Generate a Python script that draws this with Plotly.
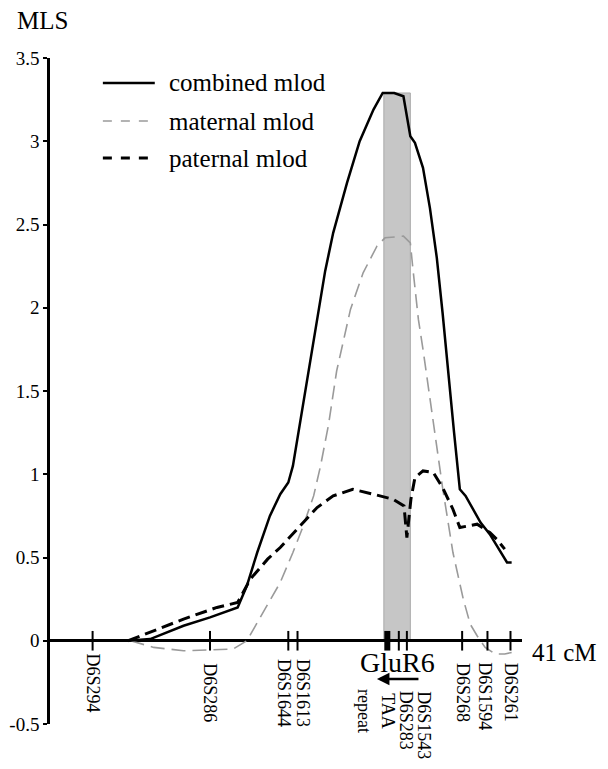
import plotly.graph_objects as go

# ---- data (cM position along chromosome 6q, MLS value) ----
combined_cm = [6.7, 8.7, 11.6, 13.9, 16.3, 17.1, 18.0, 19.1, 20.0, 20.7, 21.1, 21.7, 22.4, 23.2,
               23.9, 24.6, 25.8, 26.9, 28.1, 28.9, 29.9, 30.7, 31.3, 31.7, 32.4, 33.0, 33.6,
               34.1, 34.6, 35.1, 35.6, 36.1, 37.4, 38.2, 39.7, 40.1]
combined_mls = [0.0, 0.01, 0.09, 0.14, 0.20, 0.33, 0.53, 0.75, 0.88, 0.95, 1.05, 1.30, 1.60, 1.92,
                2.22, 2.45, 2.75, 3.00, 3.19, 3.29, 3.29, 3.27, 3.03, 2.99, 2.84, 2.60, 2.30,
                1.97, 1.60, 1.25, 0.91, 0.87, 0.71, 0.64, 0.47, 0.47]

maternal_cm = [7.0, 9.0, 11.6, 15.9, 17.1, 18.5, 20.0, 21.1, 22.0, 22.9, 23.5, 24.2, 24.9, 26.1,
               27.2, 28.4, 29.1, 30.7, 31.3, 31.5, 32.0, 32.4, 33.0, 33.6, 34.1, 35.0, 35.9,
               36.5, 37.1, 37.8, 38.7, 39.5, 40.1]
maternal_mls = [0.0, -0.04, -0.06, -0.05, 0.0, 0.17, 0.35, 0.53, 0.69, 0.87, 1.05, 1.30, 1.62, 1.99,
                2.21, 2.37, 2.42, 2.43, 2.39, 2.25, 1.93, 1.75, 1.45, 1.18, 0.92, 0.53, 0.25,
                0.10, 0.03, -0.04, -0.08, -0.08, -0.07]

paternal_cm = [6.8, 8.7, 11.6, 14.5, 16.3, 17.4, 18.9, 20.0, 21.7, 23.2, 24.6, 26.3, 28.1, 29.8,
               30.75, 31.0, 31.35, 31.7, 32.4, 33.3, 34.1, 35.0, 35.6, 37.1, 38.2, 38.8, 39.5]
paternal_mls = [0.0, 0.05, 0.13, 0.20, 0.23, 0.37, 0.49, 0.56, 0.69, 0.80, 0.87, 0.91, 0.88, 0.85,
                0.81, 0.62, 0.85, 0.98, 1.02, 1.01, 0.92, 0.79, 0.68, 0.70, 0.65, 0.61, 0.55]

marker_names = ["D6S294", "D6S286", "D6S1644", "D6S1613", "TAA<br>repeat", "D6S283",
                "D6S1543", "D6S268", "D6S1594", "D6S261"]
marker_cm = [3.7, 13.9, 20.7, 21.5, 29.3, 30.3, 31.0, 35.8, 38.0, 40.0]

gene_region = [29.0, 31.3]   # shaded GluR6 interval (cM)
gene_peak = 3.29
x_max = 41
y_ticks = [-0.5, 0, 0.5, 1, 1.5, 2, 2.5, 3, 3.5]
y_ticklabels = ["-0.5", "0", "0.5", "1", "1.5", "2", "2.5", "3", "3.5"]

# ---- styling ----
SERIF = "Liberation Serif, Times New Roman, serif"
label_shift = [0, 0, -5, 6, -11, 8, 17, 1, -2, 0]
label_top = [-0.065, -0.12, -0.10, -0.095, -0.28, -0.29, -0.29, -0.12, -0.12, -0.12]

fig = go.Figure()

fig.add_shape(type="rect", x0=gene_region[0], x1=gene_region[1], y0=0, y1=gene_peak,
              xref="x", yref="y", fillcolor="#c6c6c6", line=dict(color="#aaaaaa", width=1),
              layer="below")

fig.add_trace(go.Scatter(x=maternal_cm, y=maternal_mls, mode="lines",
                         line=dict(color="#9a9a9a", width=1.6, dash="14px,7px"),
                         showlegend=False))
fig.add_trace(go.Scatter(x=paternal_cm, y=paternal_mls, mode="lines",
                         line=dict(color="black", width=3, dash="12px,6px"),
                         showlegend=False))
fig.add_trace(go.Scatter(x=combined_cm, y=combined_mls, mode="lines",
                         line=dict(color="black", width=2.5), showlegend=False))

# marker ticks on the axis
normal_idx = [i for i, n in enumerate(marker_names) if "TAA" not in n]
taa_idx = [i for i, n in enumerate(marker_names) if "TAA" in n]
fig.add_trace(go.Scatter(x=[marker_cm[i] for i in normal_idx], y=[0] * len(normal_idx),
                         mode="markers", showlegend=False,
                         marker=dict(symbol="line-ns", size=14,
                                     line=dict(color="black", width=2))))
fig.add_trace(go.Scatter(x=[marker_cm[i] for i in taa_idx], y=[0] * len(taa_idx),
                         mode="markers", showlegend=False,
                         marker=dict(symbol="line-ns", size=14,
                                     line=dict(color="black", width=6))))

for name, xc, sh, top in zip(marker_names, marker_cm, label_shift, label_top):
    fig.add_annotation(x=xc, y=top, xref="x", yref="y", text=name, showarrow=False,
                       textangle=90, xanchor="center", yanchor="top", xshift=sh,
                       font=dict(family=SERIF, size=18, color="black"))

# GluR6 label and arrow
fig.add_annotation(x=(gene_region[0] + gene_region[1]) / 2, y=-0.13, xref="x", yref="y",
                   text="GluR6", showarrow=False, xanchor="center", yanchor="middle",
                   font=dict(family=SERIF, size=28, color="black"))
fig.add_annotation(x=28.4, y=-0.23, xref="x", yref="y", ax=43, ay=0, text="",
                   showarrow=True, arrowhead=2, arrowsize=1, arrowwidth=2.5,
                   arrowcolor="black")

fig.add_annotation(x=1.017, y=-0.07, xref="paper", yref="y", text="41 cM",
                   showarrow=False, xanchor="left", yanchor="middle",
                   font=dict(family=SERIF, size=25, color="black"))
fig.add_annotation(x=-0.074, y=1.057, xref="paper", yref="paper", text="MLS",
                   showarrow=False, xanchor="left", yanchor="middle",
                   font=dict(family=SERIF, size=25, color="black"))

# manual legend
legend_items = [("combined mlod", dict(color="black", width=2.5)),
                ("maternal mlod", dict(color="#9a9a9a", width=1.6, dash="dash")),
                ("paternal mlod", dict(color="black", width=3, dash="dash"))]
legend_y = [0.9625, 0.9054, 0.8498]
for (txt, ln), ly in zip(legend_items, legend_y):
    fig.add_shape(type="line", xref="paper", yref="paper", x0=0.112, x1=0.222,
                  y0=ly, y1=ly, line=ln)
    fig.add_annotation(x=0.248, y=ly, xref="paper", yref="paper", text=txt,
                       showarrow=False, xanchor="left", yanchor="middle",
                       font=dict(family=SERIF, size=25, color="black"))

fig.update_xaxes(range=[0, x_max], showgrid=False, zeroline=False, showline=False,
                 showticklabels=False, ticks="", automargin=False)
fig.update_yaxes(range=[-0.5, 3.5], showgrid=False, zeroline=True, zerolinecolor="black",
                 zerolinewidth=2.5, showline=True, linecolor="black", linewidth=2.5,
                 ticks="outside", ticklen=4, tickwidth=2, tickcolor="black",
                 tickvals=y_ticks, ticktext=y_ticklabels, automargin=False,
                 tickfont=dict(family=SERIF, size=19, color="black"))

# the page adds an 8px body margin, so the figure is 8px smaller to fit the window
fig.update_layout(width=600, height=761, margin=dict(l=42, r=86, t=50, b=45),
                  plot_bgcolor="white", paper_bgcolor="white", showlegend=False)

fig.write_html("out.html")
